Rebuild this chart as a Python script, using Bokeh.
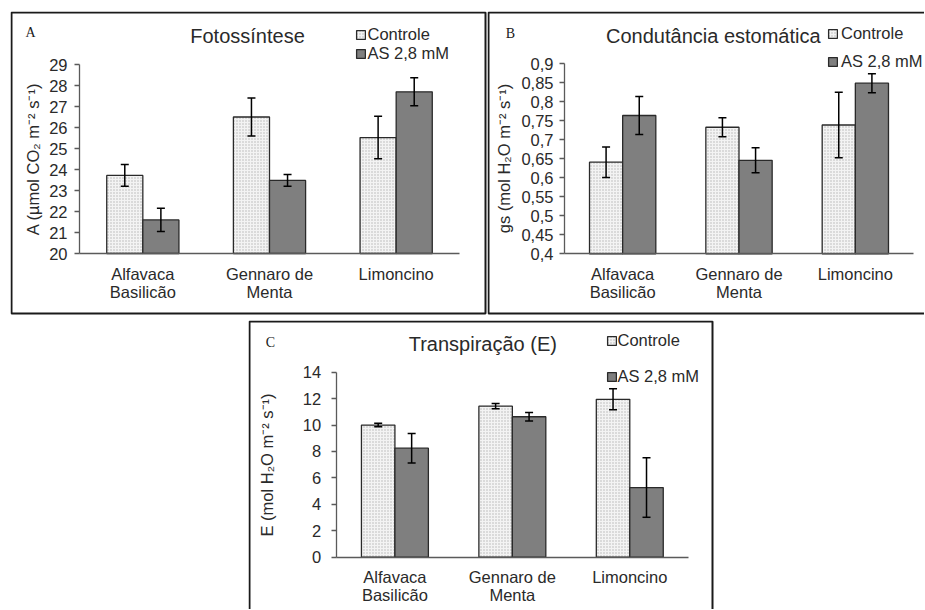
from bokeh.plotting import figure
from bokeh.models import (ColumnDataSource, Range1d, FixedTicker, Whisker,
                          TeeHead, Legend, LegendItem, Label, BoxAnnotation, Spacer)
from bokeh.layouts import column, row
from bokeh.embed import file_html
from bokeh.resources import INLINE

# ---------------- data ----------------
cultivars = ["Alfavaca\nBasilicão", "Gennaro de\nMenta", "Limoncino"]
series_names = ["Controle", "AS 2,8 mM"]

# A - Fotossíntese
a_ctrl = [23.72, 26.50, 25.52]
a_ctrl_err = [0.52, 0.90, 1.01]
a_as = [21.60, 23.48, 27.70]
a_as_err = [0.55, 0.28, 0.67]
a_ticks = [20, 21, 22, 23, 24, 25, 26, 27, 28, 29]
a_tick_labels = ["20", "21", "22", "23", "24", "25", "26", "27", "28", "29"]

# B - Condutância estomática
b_ctrl = [0.641, 0.733, 0.739]
b_ctrl_err = [0.040, 0.025, 0.086]
b_as = [0.764, 0.646, 0.849]
b_as_err = [0.050, 0.033, 0.025]
b_ticks = [0.40, 0.45, 0.50, 0.55, 0.60, 0.65, 0.70, 0.75, 0.80, 0.85, 0.90]
b_tick_labels = ["0,4", "0,45", "0,5", "0,55", "0,6", "0,65", "0,7", "0,75", "0,8", "0,85", "0,9"]

# C - Transpiração
c_ctrl = [10.00, 11.43, 11.95]
c_ctrl_err = [0.13, 0.20, 0.80]
c_as = [8.25, 10.63, 5.27]
c_as_err = [1.12, 0.32, 2.25]
c_ticks = [0, 2, 4, 6, 8, 10, 12, 14]
c_tick_labels = ["0", "2", "4", "6", "8", "10", "12", "14"]

FONT = "Liberation Sans"
SERIF = "Liberation Serif"
TXT = "#2a2a2a"
AXC = "#5a5a5a"
BAR_W = 0.285
OFF = 0.1425


def make_panel(W, H, axis_px, yr, ticks, tick_labels, ctrl, ctrl_err, trt, trt_err,
               ylabel, title, title_xy, letter, letter_xy, leg_xy, leg_spacing,
               leg_standoff, ylab_standoff, ytick_standoff, xlab_standoff, box):
    # axis_px: canvas pixel positions (x of first category edge, x of last edge,
    #          y (from top) of y-max, y (from top) of y-min)
    n = len(cultivars)
    cx0, cx1, cyt, cyb = axis_px
    ux = n / (cx1 - cx0)
    ymin, ymax = yr
    uy = (ymax - ymin) / (cyb - cyt)
    x_range = Range1d(0 - cx0 * ux, n + (W - cx1) * ux)
    y_range = Range1d(ymin - (H - cyb) * uy, ymax + cyt * uy)

    p = figure(width=W, height=H, x_range=x_range, y_range=y_range,
               output_backend="svg", toolbar_location=None,
               min_border_left=0, min_border_right=0, min_border_top=0, min_border_bottom=0)
    p.outline_line_color = None
    p.grid.visible = False
    p.background_fill_color = "white"
    p.border_fill_color = "white"

    centers = [i + 0.5 for i in range(n)]
    src = ColumnDataSource(dict(
        xc=[c - OFF for c in centers], xt=[c + OFF for c in centers],
        ctrl=ctrl, ctrl_lo=[v - e for v, e in zip(ctrl, ctrl_err)],
        ctrl_hi=[v + e for v, e in zip(ctrl, ctrl_err)],
        trt=trt, trt_lo=[v - e for v, e in zip(trt, trt_err)],
        trt_hi=[v + e for v, e in zip(trt, trt_err)],
    ))

    r1 = p.vbar(x="xc", top="ctrl", bottom=ymin, width=BAR_W, source=src,
                fill_color="#f3f3f3", hatch_pattern="dot", hatch_color="#b4b4b4",
                hatch_scale=3, hatch_weight=1, line_color="#2a2a2a", line_width=1.3)
    r2 = p.vbar(x="xt", top="trt", bottom=ymin, width=BAR_W, source=src,
                fill_color="#7f7f7f", line_color="#2a2a2a", line_width=1.3)

    for xcol, lo, hi in (("xc", "ctrl_lo", "ctrl_hi"), ("xt", "trt_lo", "trt_hi")):
        w = Whisker(source=src, base=xcol, lower=lo, upper=hi, level="annotation",
                    line_color="black", line_width=1.5,
                    upper_head=TeeHead(size=8, line_width=1.5, line_color="black"),
                    lower_head=TeeHead(size=8, line_width=1.5, line_color="black"))
        p.add_layout(w)

    # axes (drawn at the data origin of the chart)
    xa = p.xaxis[0]
    xa.fixed_location = ymin
    xa.bounds = (0, n)
    xa.ticker = FixedTicker(ticks=centers)
    xa.major_label_overrides = dict(zip(centers, cultivars))
    xa.axis_line_color = AXC
    xa.axis_line_width = 1.5
    xa.major_tick_line_color = None
    xa.minor_tick_line_color = None
    xa.major_label_text_font = FONT
    xa.major_label_text_font_size = "16.5px"
    xa.major_label_text_color = TXT
    xa.major_label_standoff = xlab_standoff
    xa.major_label_text_line_height = 1.0

    ya = p.yaxis[0]
    ya.fixed_location = 0
    ya.bounds = (ymin, ymax)
    ya.ticker = FixedTicker(ticks=ticks)
    ya.major_label_overrides = dict(zip(ticks, tick_labels))
    ya.axis_line_color = AXC
    ya.axis_line_width = 1.3
    ya.major_tick_line_color = AXC
    ya.major_tick_line_width = 1.3
    ya.major_tick_out = 5
    ya.major_tick_in = 0
    ya.minor_tick_line_color = None
    ya.major_label_text_font = FONT
    ya.major_label_text_font_size = "16.5px"
    ya.major_label_text_color = TXT
    ya.major_label_standoff = ytick_standoff
    ya.axis_label = ylabel
    ya.axis_label_text_font = FONT
    ya.axis_label_text_font_style = "normal"
    ya.axis_label_text_font_size = "16.5px"
    ya.axis_label_text_color = TXT
    ya.axis_label_standoff = ylab_standoff

    # title and panel letter (screen positions, y measured from the bottom)
    p.add_layout(Label(x=title_xy[0], y=title_xy[1], x_units="screen", y_units="screen",
                       text=title, text_font=FONT, text_font_size="20px",
                       text_color=TXT, text_align="center", text_baseline="middle"))
    p.add_layout(Label(x=letter_xy[0], y=letter_xy[1], x_units="screen", y_units="screen",
                       text=letter, text_font=SERIF, text_font_size="14px",
                       text_color="#202020", text_align="center", text_baseline="middle"))

    leg = Legend(items=[LegendItem(label=series_names[0], renderers=[r1]),
                        LegendItem(label=series_names[1], renderers=[r2])],
                 location=leg_xy, padding=0, margin=0, spacing=leg_spacing,
                 label_standoff=leg_standoff, glyph_width=11, glyph_height=11,
                 label_height=18, label_text_font=FONT, label_text_font_size="16.5px",
                 label_text_color=TXT, border_line_color=None, background_fill_alpha=0)
    p.add_layout(leg)

    # panel frame
    p.add_layout(BoxAnnotation(left=box[0], right=box[1], top=box[2], bottom=box[3],
                               left_units="canvas", right_units="canvas",
                               top_units="canvas", bottom_units="canvas",
                               fill_alpha=0, line_color="#1a1a1a", line_alpha=1.0,
                               line_width=2, level="overlay"))
    return p


pA = make_panel(477, 304, (69, 449, 53, 242), (20, 29), a_ticks, a_tick_labels,
                a_ctrl, a_ctrl_err, a_as, a_as_err,
                "A (µmol CO₂ m⁻² s⁻¹)", "Fotossíntese", (237, 280), "A", (20, 283),
                (344.5, 252.5), 0, 2, 4, 7, 5, (1, 475, 1, 302))

pB = make_panel(437, 304, (77, 426, 52.3, 242.3), (0.4, 0.9), b_ticks, b_tick_labels,
                b_ctrl, b_ctrl_err, b_as, b_as_err,
                "gs (mol H₂O m⁻² s⁻¹)", "Condutância estomática", (225.8, 280), "B", (23, 281.7),
                (340, 244.2), 9, 3, 5, 6, 5, (1, 447, 1, 302))

pC = make_panel(466, 289, (87.7, 440, 51.7, 236.7), (0, 14), c_ticks, c_tick_labels,
                c_ctrl, c_ctrl_err, c_as, c_as_err,
                "E (mol H₂O m⁻² s⁻¹)", "Transpiração (E)", (234.3, 265.7), "C", (22, 267.3),
                (357.5, 223.5), 17, 1, 24, 10, 5, (1, 464, 1, 300))

layout = column(
    Spacer(width=10, height=11),
    row(Spacer(width=10, height=10), pA, pB),
    Spacer(width=10, height=5),
    row(Spacer(width=248, height=10), pC),
)

open("out.html", "w").write(file_html(layout, INLINE))
